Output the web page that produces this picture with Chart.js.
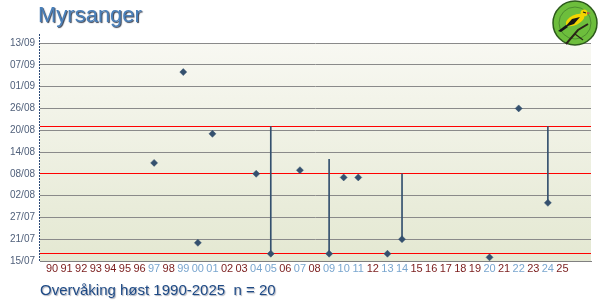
<!DOCTYPE html>
<html><head><meta charset="utf-8">
<script src="https://cdn.jsdelivr.net/npm/chart.js@4"></script>
<style>html,body{margin:0;padding:0;background:#fff;}#c{display:block;}</style>
</head><body>
<canvas id="c" width="600" height="300"></canvas>
<script>
// ---- data ----
const seasons = ['90','91','92','93','94','95','96','97','98','99','00','01','02','03','04','05','06','07','08','09','10','11','12','13','14','15','16','17','18','19','20','21','22','23','24','25'];
// y values: days after 15/07
const yTickLabels = ['15/07','21/07','27/07','02/08','08/08','14/08','20/08','26/08','01/09','07/09','13/09'];
const pointYears = ['97','99','00','01','04','05','07','09','10','11','13','14','20','22','24'];
const pointDays  = [27, 52, 5, 35, 24, 2, 25, 2, 23, 23, 2, 6, 1, 42, 16];
const rangeYears = ['05','09','14','24'];
const rangeFrom  = [2, 2, 6, 16];
const rangeTo    = [37, 28, 24, 37];
const refLineDays = [2, 24, 37];
const titleText = 'Myrsanger';
const footerText = 'Overvåking høst 1990-2025  n = 20';

const MARK = '#34506E';
const yearsWithData = new Set(pointYears);

const decor = {
  id: 'decor',
  beforeDraw(chart) {
    const {ctx, chartArea: a} = chart;
    const g = ctx.createLinearGradient(0, a.top, 0, a.bottom);
    g.addColorStop(0, '#F8F8F2');
    g.addColorStop(1, '#E4E8D2');
    ctx.save();
    ctx.fillStyle = g;
    ctx.fillRect(a.left, a.top, a.right - a.left, a.bottom - a.top);
    ctx.restore();
  },
  beforeDatasetsDraw(chart) {
    const {ctx, chartArea: a, scales: {y}} = chart;
    ctx.save();
    ctx.fillStyle = '#FF0000';
    refLineDays.forEach(d => {
      const row = Math.floor(y.getPixelForValue(d));
      ctx.fillRect(a.left, row, a.right - a.left, 1);
    });
    ctx.restore();
  },
  afterDraw(chart) {
    const {ctx, chartArea: a} = chart;
    // dotted y axis line
    ctx.save();
    ctx.setLineDash([2, 1]);
    ctx.strokeStyle = '#2C4A78';
    ctx.lineWidth = 1;
    ctx.beginPath(); ctx.moveTo(a.left - 0.5, 34); ctx.lineTo(a.left - 0.5, a.bottom + 1); ctx.stroke();
    ctx.restore();

    ctx.save();
    // title
    ctx.font = '22px "Liberation Sans", Arial, sans-serif';
    ctx.textBaseline = 'alphabetic';
    ctx.textAlign = 'left';
    ctx.shadowColor = 'rgba(20,30,50,0.85)';
    ctx.shadowOffsetX = 1; ctx.shadowOffsetY = 1; ctx.shadowBlur = 1;
    ctx.fillStyle = '#4A80BA';
    ctx.fillText(titleText, 38, 22);
    // footer
    ctx.font = '15px "Liberation Sans", Arial, sans-serif';
    ctx.shadowColor = 'rgba(20,30,60,0.35)';
    ctx.fillStyle = '#1F4B86';
    ctx.fillText(footerText, 40, 295);
    ctx.restore();

    // logo
    ctx.save();
    const cx = 575, cy = 23, r = 22;
    ctx.beginPath(); ctx.arc(cx, cy, r, 0, Math.PI * 2);
    ctx.fillStyle = '#6DBE3C'; ctx.fill();
    ctx.lineWidth = 1.5; ctx.strokeStyle = '#2D5A1C'; ctx.stroke();
    ctx.beginPath(); ctx.arc(cx, cy, r - 6, 0, Math.PI * 2);
    ctx.lineWidth = 0.7; ctx.strokeStyle = '#3F7A2A'; ctx.stroke();
    ctx.strokeStyle = '#2A2418'; ctx.lineWidth = 2;
    ctx.beginPath(); ctx.moveTo(566, 44); ctx.lineTo(578, 30); ctx.lineTo(588, 24); ctx.stroke();
    ctx.lineWidth = 1.2;
    ctx.beginPath(); ctx.moveTo(575, 34); ctx.lineTo(583, 40); ctx.stroke();
    ctx.fillStyle = '#F3D500';
    ctx.beginPath(); ctx.ellipse(575, 20, 10, 5, -0.45, 0, Math.PI * 2); ctx.fill();
    ctx.beginPath(); ctx.arc(584, 13, 3.5, 0, Math.PI * 2); ctx.fill();
    ctx.fillStyle = '#151515';
    ctx.beginPath(); ctx.moveTo(565, 27); ctx.lineTo(572, 19); ctx.lineTo(580, 17); ctx.lineTo(574, 24); ctx.closePath(); ctx.fill();
    ctx.beginPath(); ctx.moveTo(566, 25); ctx.lineTo(558, 31); ctx.lineTo(561, 32); ctx.lineTo(568, 27); ctx.closePath(); ctx.fill();
    ctx.beginPath(); ctx.moveTo(583, 12); ctx.lineTo(586, 13); ctx.lineWidth = 1.2; ctx.strokeStyle = '#151515'; ctx.stroke();
    ctx.fillStyle = '#C0504D';
    ctx.beginPath(); ctx.moveTo(587, 12); ctx.lineTo(591, 13); ctx.lineTo(587, 14.5); ctx.closePath(); ctx.fill();
    ctx.restore();
  }
};

const X_MIN = -0.3, X_MAX = 36.433;

new Chart(document.getElementById('c'), {
  type: 'scatter',
  data: {
    datasets: [
      {
        type: 'bar',
        data: rangeYears.map((yr, i) => ({x: seasons.indexOf(yr), y: [rangeFrom[i], rangeTo[i]]})),
        backgroundColor: MARK,
        borderWidth: 0,
        barThickness: 1,
        order: 2
      },
      {
        type: 'scatter',
        data: pointYears.map((yr, i) => ({x: seasons.indexOf(yr), y: pointDays[i]})),
        pointStyle: 'rectRot',
        pointRadius: 3.5,
        pointBorderWidth: 0.5,
        backgroundColor: MARK,
        borderColor: MARK,
        order: 1
      }
    ]
  },
  options: {
    responsive: false,
    animation: false,
    devicePixelRatio: 1,
    layout: {padding: {left: 0, top: 43, right: 9, bottom: 19}},
    plugins: {legend: {display: false}, tooltip: {enabled: false}, title: {display: false}},
    scales: {
      x: {
        type: 'linear',
        min: X_MIN, max: X_MAX,
        afterBuildTicks: s => { s.ticks = seasons.map((_, i) => ({value: i})); },
        afterFit: s => { s.height = 20; },
        grid: {display: false, drawTicks: false},
        border: {display: true, color: '#808080', width: 1},
        ticks: {
          autoSkip: false, maxRotation: 0, padding: 1,
          font: {family: '"Liberation Sans", Arial, sans-serif', size: 11},
          color: ctx => yearsWithData.has(seasons[ctx.index]) ? '#7AA6CF' : '#7A1C1C',
          callback: (v, i) => seasons[i]
        }
      },
      y: {
        type: 'linear',
        min: 0, max: 60,
        afterBuildTicks: s => { s.ticks = yTickLabels.map((_, i) => ({value: i * 6})); },
        afterFit: s => { s.width = 40; },
        grid: {color: '#8A8A8A', lineWidth: 1, drawTicks: false},
        border: {display: false},
        ticks: {
          padding: 5,
          font: {family: '"Liberation Sans", Arial, sans-serif', size: 10},
          color: '#4F5F7A',
          callback: (v, i) => yTickLabels[i]
        }
      }
    }
  },
  plugins: [decor]
});
</script>
</body></html>
